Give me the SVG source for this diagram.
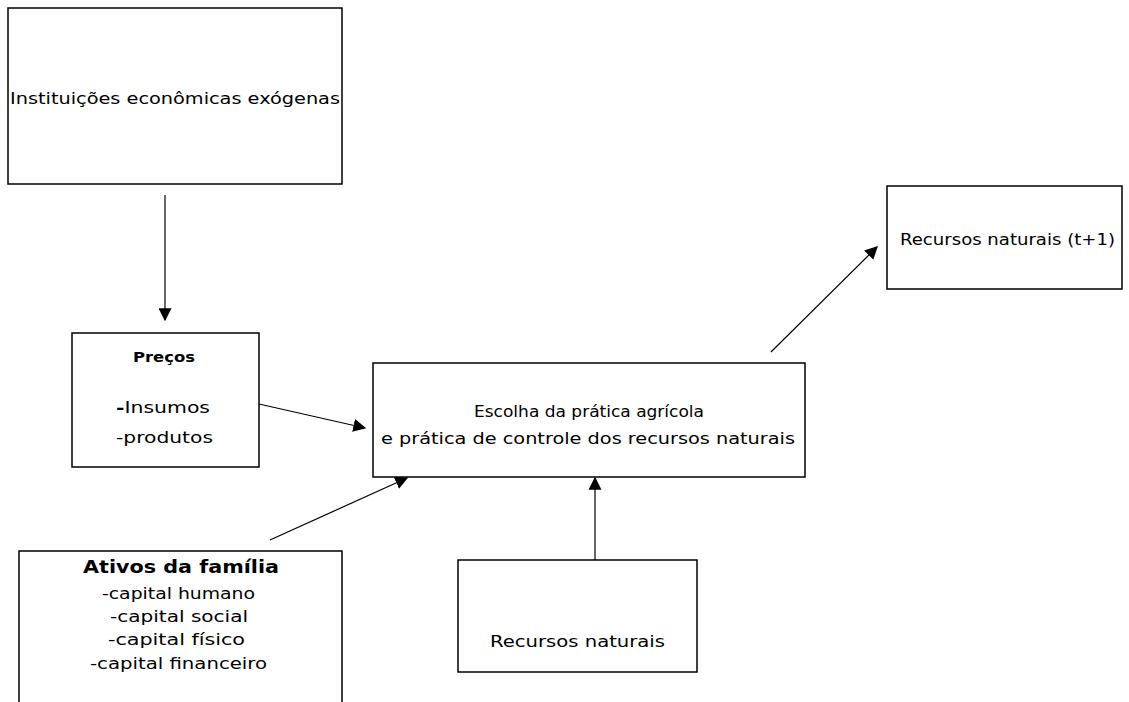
<svg xmlns="http://www.w3.org/2000/svg" width="1129" height="702" viewBox="0 0 1129 702">
<style>
.box{fill:#fff;stroke:#000;stroke-width:1.5}
.t{font-family:"DejaVu Sans","Liberation Sans",sans-serif;font-size:16px;fill:#000}
.b{font-family:"DejaVu Sans","Liberation Sans",sans-serif;font-weight:bold;fill:#000}
.c{stroke:#000;stroke-width:1.2;fill:none;marker-end:url(#ah)}
</style>
<defs>
<marker id="ah" viewBox="0 0 10 10" refX="9" refY="5" markerWidth="13" markerHeight="13" markerUnits="userSpaceOnUse" orient="auto">
<path d="M0,0 L10,5 L0,10 z" fill="#000"/>
</marker>
</defs>
<rect width="1129" height="702" fill="#fff"/>
<g id="connectors">
<line class="c" x1="165" y1="195" x2="165" y2="320"/>
<line class="c" x1="259" y1="404" x2="365" y2="428"/>
<line class="c" x1="270" y1="540" x2="407" y2="478"/>
<line class="c" x1="595" y1="560" x2="595" y2="478"/>
<line class="c" x1="771" y1="352" x2="877" y2="247"/>
</g>
<g id="instituicoes">
<rect class="box" x="8" y="8" width="334" height="176"/>
<text class="t" x="10" y="104" textLength="330" lengthAdjust="spacingAndGlyphs">Instituições econômicas exógenas</text>
</g>
<g id="precos">
<rect class="box" x="72" y="333" width="187" height="134"/>
<text class="b" x="133" y="362" font-size="14" textLength="62" lengthAdjust="spacingAndGlyphs">Preços</text>
<text class="t" x="116" y="413" textLength="94" lengthAdjust="spacingAndGlyphs"><tspan font-weight="bold">-</tspan>Insumos</text>
<text class="t" x="116" y="443" textLength="97" lengthAdjust="spacingAndGlyphs">-produtos</text>
</g>
<g id="escolha">
<rect class="box" x="373" y="363" width="432" height="114"/>
<text class="t" x="474" y="417" textLength="230" lengthAdjust="spacingAndGlyphs">Escolha da prática agrícola</text>
<text class="t" x="381" y="444" textLength="414" lengthAdjust="spacingAndGlyphs">e prática de controle dos recursos naturais</text>
</g>
<g id="recursos-t1">
<rect class="box" x="887" y="186" width="235" height="103"/>
<text class="t" x="900" y="245" textLength="215" lengthAdjust="spacingAndGlyphs">Recursos naturais (t+1)</text>
</g>
<g id="ativos">
<rect class="box" x="19" y="551" width="323" height="170"/>
<text class="b" x="83" y="573" font-size="18" textLength="196" lengthAdjust="spacingAndGlyphs">Ativos da família</text>
<text class="t" x="102" y="599" textLength="153" lengthAdjust="spacingAndGlyphs">-capital humano</text>
<text class="t" x="110" y="622" textLength="138" lengthAdjust="spacingAndGlyphs">-capital social</text>
<text class="t" x="108" y="645" textLength="137" lengthAdjust="spacingAndGlyphs">-capital físico</text>
<text class="t" x="90" y="669" textLength="177" lengthAdjust="spacingAndGlyphs">-capital financeiro</text>
</g>
<g id="recursos">
<rect class="box" x="458" y="560" width="239" height="112"/>
<text class="t" x="490" y="647" textLength="175" lengthAdjust="spacingAndGlyphs">Recursos naturais</text>
</g>
</svg>
